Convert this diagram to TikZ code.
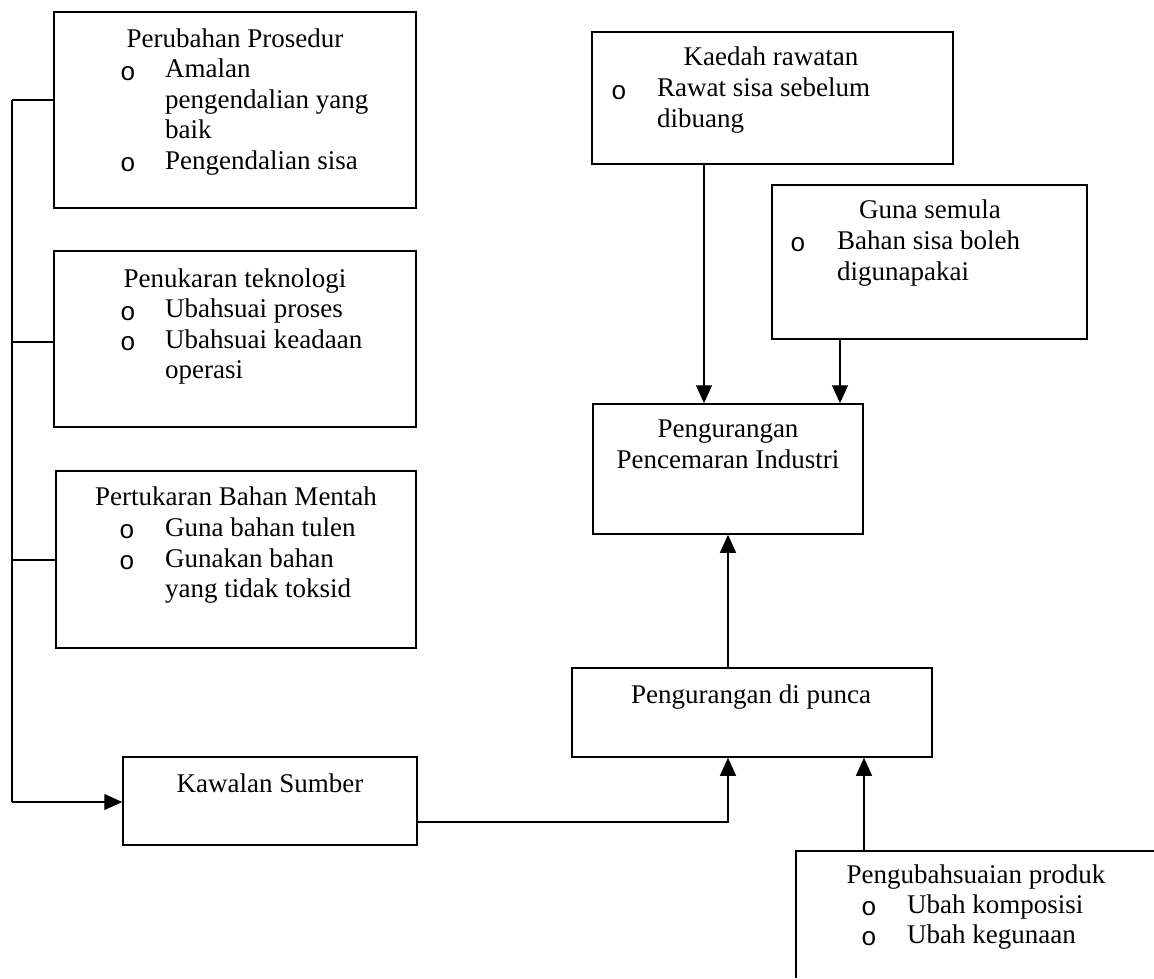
\documentclass[tikz,border=0pt]{standalone}
\usepackage{fontspec}
\setmainfont{Liberation Serif}
\newfontfamily\bulletfont{Liberation Mono}
\usetikzlibrary{arrows.meta}
\begin{document}
\begin{tikzpicture}[x=1pt,y=-1pt,
  box/.style={draw, line width=1.5pt, inner sep=0pt, rectangle},
  openbox/.style={inner sep=0pt, rectangle},
  edge/.style={line width=1.5pt},
  conn/.style={line width=1.2pt},
  arr/.style={conn, -{Triangle[width=16pt,length=18pt]}},
  txt/.style={inner sep=0pt, font=\fontsize{27}{30}\selectfont},
  bul/.style={inner sep=0pt, font=\bulletfont\fontsize{26}{26}\selectfont},
]
\useasboundingbox (0,0) rectangle (1154,978);

% ---------- boxes ----------
\node[box, minimum width=362pt, minimum height=196pt] (b1) at (235,110) {};
\node[box, minimum width=362pt, minimum height=176pt] (b2) at (235,339) {};
\node[box, minimum width=360pt, minimum height=177pt] (b3) at (236,559.5) {};
\node[box, minimum width=294pt, minimum height=88pt] (kaw) at (270,801) {};
\node[box, minimum width=361pt, minimum height=132pt] (kae) at (772.5,98) {};
\node[box, minimum width=315pt, minimum height=154pt] (gun) at (929.5,262) {};
\node[box, minimum width=270pt, minimum height=130pt] (pen) at (728,469) {};
\node[box, minimum width=360pt, minimum height=89pt] (pun) at (752,712.5) {};
\node[openbox, minimum width=358pt, minimum height=127pt] (mod) at (975,914.5) {};
\draw[edge] (mod.south west) -- (mod.north west) -- (mod.north east);

% ---------- texts ----------
% Perubahan Prosedur
\node[txt, anchor=base] (t1) at (235,47) {Perubahan Prosedur};
\node[bul, anchor=base west] (t1b1) at (120,80) {o};
\node[txt, anchor=base west] (t1i1) at (165,77.5) {Amalan};
\node[txt, anchor=base west] (t1i1b) at (165,108) {pengendalian yang};
\node[txt, anchor=base west] (t1i1c) at (165,138.5) {baik};
\node[bul, anchor=base west] (t1b2) at (120,171.5) {o};
\node[txt, anchor=base west] (t1i2) at (165,169) {Pengendalian sisa};

% Penukaran teknologi
\node[txt, anchor=base] (t2) at (235,287) {Penukaran teknologi};
\node[bul, anchor=base west] (t2b1) at (120,320) {o};
\node[txt, anchor=base west] (t2i1) at (165,317.5) {Ubahsuai proses};
\node[bul, anchor=base west] (t2b2) at (120,350.5) {o};
\node[txt, anchor=base west] (t2i2) at (165,348) {Ubahsuai keadaan};
\node[txt, anchor=base west] (t2i2b) at (165,378.5) {operasi};

% Pertukaran Bahan Mentah
\node[txt, anchor=base] (t3) at (236,505) {Pertukaran Bahan Mentah};
\node[bul, anchor=base west] (t3b1) at (119,538.5) {o};
\node[txt, anchor=base west] (t3i1) at (165,536) {Guna bahan tulen};
\node[bul, anchor=base west] (t3b2) at (119,569.5) {o};
\node[txt, anchor=base west] (t3i2) at (165,567) {Gunakan bahan};
\node[txt, anchor=base west] (t3i2b) at (165,597.5) {yang tidak toksid};

% Kawalan Sumber
\node[txt, anchor=base] (t4) at (270,792) {Kawalan Sumber};

% Kaedah rawatan
\node[txt, anchor=base] (t5) at (771,65) {Kaedah rawatan};
\node[bul, anchor=base west] (t5b1) at (611,99) {o};
\node[txt, anchor=base west] (t5i1) at (657,96.5) {Rawat sisa sebelum};
\node[txt, anchor=base west] (t5i1b) at (657,127) {dibuang};

% Guna semula
\node[txt, anchor=base] (t6) at (930,218) {Guna semula};
\node[bul, anchor=base west] (t6b1) at (790,251.5) {o};
\node[txt, anchor=base west] (t6i1) at (837,249) {Bahan sisa boleh};
\node[txt, anchor=base west] (t6i1b) at (837,280) {digunapakai};

% Pengurangan Pencemaran Industri
\node[txt, anchor=base] (t7a) at (728,437) {Pengurangan};
\node[txt, anchor=base] (t7b) at (728,468) {Pencemaran Industri};

% Pengurangan di punca
\node[txt, anchor=base] (t8) at (751,703) {Pengurangan di punca};

% Pengubahsuaian produk
\node[txt, anchor=base] (t9) at (976,883) {Pengubahsuaian produk};
\node[bul, anchor=base west] (t9b1) at (861,915.5) {o};
\node[txt, anchor=base west] (t9i1) at (907,913) {Ubah komposisi};
\node[bul, anchor=base west] (t9b2) at (861,945.5) {o};
\node[txt, anchor=base west] (t9i2) at (907,943) {Ubah kegunaan};

% ---------- connectors ----------
\coordinate (bus1) at (12,100);
\coordinate (bus2) at (12,342);
\coordinate (bus3) at (12,560);
\coordinate (bus4) at (12,802);
\draw[conn] (bus1) -- (bus4);
\draw[conn] (bus1) -- (bus1 -| b1.west);
\draw[conn] (bus2) -- (bus2 -| b2.west);
\draw[conn] (bus3) -- (bus3 -| b3.west);
\draw[arr] (bus4) -- (bus4 -| kaw.west);

\coordinate (xa) at (704,0);
\coordinate (xb) at (840,0);
\coordinate (xc) at (728,0);
\coordinate (xd) at (864,0);
\coordinate (yk) at (0,822);

\draw[arr] (kae.south -| xa) -- (pen.north -| xa);
\draw[arr] (gun.south -| xb) -- (pen.north -| xb);
\draw[arr] (pun.north -| xc) -- (pen.south -| xc);
\draw[arr] (kaw.east |- yk) -- (xc |- yk) -- (pun.south -| xc);
\draw[arr] (mod.north -| xd) -- (pun.south -| xd);
\end{tikzpicture}
\end{document}
